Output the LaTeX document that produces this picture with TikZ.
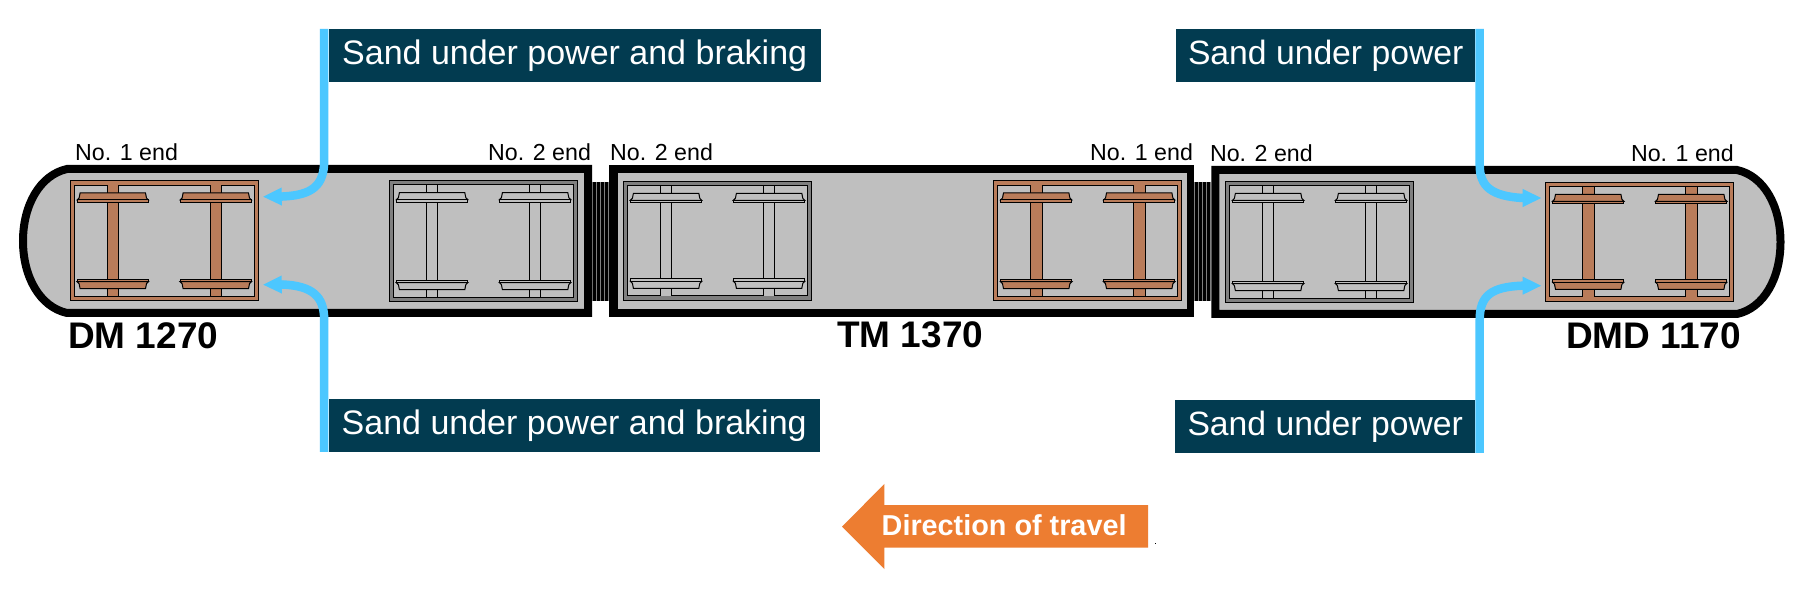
\documentclass[tikz,border=0pt]{standalone}
\usepackage{fontspec}
\setmainfont{Liberation Sans}
\usetikzlibrary{arrows.meta}
\definecolor{carfill}{HTML}{BFBFBF}
\definecolor{framegrey}{HTML}{7F7F7F}
\definecolor{brownpart}{HTML}{B97C5A}
\definecolor{sandblue}{HTML}{4CC7FF}
\definecolor{boxnavy}{HTML}{023B50}
\definecolor{travelorange}{HTML}{ED7D31}
\newcommand{\fs}[1]{\fontsize{#1}{#1}\selectfont}
% wheelset: #1 centre x, #2 frame height, #3 colour
\newcommand{\wheelset}[3]{%
  \fill[#3] (#1-5.8,4.3) rectangle (#1+5.8,#2-4.3);
  \draw[thinline] (#1-5.8,4.3) -- (#1-5.8,#2-4.3) (#1+5.8,4.3) -- (#1+5.8,#2-4.3);
  \draw[thinline,fill=#3] (#1-32.7,12) -- (#1+32.7,12) -- (#1+33.7,17) -- (#1+35.7,19) -- (#1-35.7,19) -- (#1-33.7,17) -- cycle;
  \draw[thinline,fill=#3] (#1-35.7,19) rectangle (#1+35.7,21.5);
  \draw[thinline,fill=#3] (#1-32.7,#2-12) -- (#1+32.7,#2-12) -- (#1+33.7,#2-17) -- (#1+35.7,#2-19) -- (#1-35.7,#2-19) -- (#1-33.7,#2-17) -- cycle;
  \draw[thinline,fill=#3] (#1-35.7,#2-21.5) rectangle (#1+35.7,#2-19);
}
% bogie: #1 left, #2 top, #3 height, #4 frame colour, #5 wheelset colour
\newcommand{\bogie}[5]{%
  \begin{scope}[shift={(#1,#2)}]
    \draw[thinline,fill=#4] (0,0) rectangle (188.5,#3);
    \draw[thinline,fill=carfill] (4.3,4.3) rectangle (184.2,#3-4.3);
    \wheelset{42.8}{#3}{#5}
    \wheelset{145.8}{#3}{#5}
  \end{scope}
}
% gangway: #1 left
\newcommand{\gangway}[1]{%
  \fill[black] (#1,182) rectangle (#1+17,300.7);
  \foreach \k in {0.3,4.3,8.3,12.3,16.3}
    \draw[framegrey,line width=1] (#1+\k,182) -- (#1+\k,300.7);
}
\tikzset{
  thinline/.style={draw=black,line width=1},
  carbody/.style={draw=black,fill=carfill,line width=8,miter limit=10},
  sandbox/.style={fill=boxnavy,text=white,inner sep=0,anchor=north west,minimum height=53},
  endlabel/.style={inner sep=0,anchor=base west,font=\fs{23.2}},
  carlabel/.style={inner sep=0,anchor=base west,font=\bfseries\fs{37}},
  sandline/.style={draw=sandblue,line width=8.5,-{Triangle[length=19,width=16.5]}},
}
\begin{document}
\begin{tikzpicture}[x=1pt,y=-1pt]
\useasboundingbox (0,0) rectangle (1808,593);
\fill[white] (0,0) rectangle (1808,593);

% gangways
\gangway{592}
\gangway{1194}

% car bodies
\draw[carbody] (67,169) -- (588,169) -- (588,313) -- (67,313)
  .. controls (40,307) and (23,277) .. (23,241)
  .. controls (23,205) and (40,175) .. (67,169) -- cycle;
\fill[black] (609,165) rectangle (1194,317);
\fill[carfill] (618,173) rectangle (1186.7,309);
\draw[carbody] (1737,170) -- (1215.4,170) -- (1215.4,314) -- (1737,314)
  .. controls (1764,308) and (1780.5,278) .. (1780.5,242)
  .. controls (1780.5,206) and (1764,176) .. (1737,170) -- cycle;

% bogies
\bogie{70}{181}{119.7}{brownpart}{brownpart}
\bogie{389.3}{180.7}{121}{framegrey}{carfill}
\bogie{623.3}{181.3}{119}{framegrey}{carfill}
\bogie{993.4}{181}{119.7}{brownpart}{brownpart}
\bogie{1225.3}{181.3}{121.4}{framegrey}{carfill}
\bogie{1545.4}{182.3}{119}{brownpart}{brownpart}

% labels for ends
\node[endlabel] (endA) at (75,161) {No. 1 end};
\node[endlabel] (endB) at (488,161) {No. 2 end};
\node[endlabel] (endC) at (610,161) {No. 2 end};
\node[endlabel] (endD) at (1090,161) {No. 1 end};
\node[endlabel] (endE) at (1209.8,161.5) {No. 2 end};
\node[endlabel] (endF) at (1630.8,161.5) {No. 1 end};

% car names
\node[carlabel] (carA) at (68,349) {DM 1270};
\node[carlabel] (carB) at (837,348) {TM 1370};
\node[carlabel] (carC) at (1566,349) {DMD 1170};

% sand boxes
\node[sandbox,minimum width=492,font=\fs{34}] (boxA) at (328.5,29) {Sand under power and braking};
\node[sandbox,minimum width=491,font=\fs{34}] (boxB) at (328.5,399) {Sand under power and braking};
\node[sandbox,minimum width=299,font=\fs{33.7}] (boxC) at (1176,29) {Sand under power};
\node[sandbox,minimum width=300,font=\fs{33.7}] (boxD) at (1175,400) {Sand under power};

% sand pipes
\coordinate (pipeA) at (324.2,29);
\coordinate (tipA) at (262.7,196.7);
\coordinate (pipeB) at (324.2,452);
\coordinate (tipB) at (262.7,284.7);
\coordinate (pipeC) at (1479.7,29);
\coordinate (tipC) at (1541.7,198);
\coordinate (pipeD) at (1479.7,453);
\coordinate (tipD) at (1541.7,285.7);
\draw[sandline] (pipeA) -- (324.2,160) .. controls (324.2,186) and (312,195) .. (283,196.5) -- (tipA);
\draw[sandline] (pipeB) -- (324.2,320) .. controls (324.2,296) and (312,286) .. (283,284.5) -- (tipB);
\draw[sandline] (pipeC) -- (1479.7,165) .. controls (1479.7,187) and (1492,196) .. (1522,198) -- (tipC);
\draw[sandline] (pipeD) -- (1479.7,320) .. controls (1479.7,295) and (1492,287) .. (1522,285.7) -- (tipD);

% direction arrow
\fill[travelorange] (842,526.7) -- (884.3,484) -- (884.3,505) -- (1148,505) -- (1148,547.7) -- (884.3,547.7) -- (884.3,569) -- cycle;
\node[inner sep=0,anchor=base west,text=white,font=\bfseries\fs{28.8}] (travel) at (881.5,535) {Direction of travel};
\fill[black] (1155,543) rectangle (1156,544);
\end{tikzpicture}
\end{document}
